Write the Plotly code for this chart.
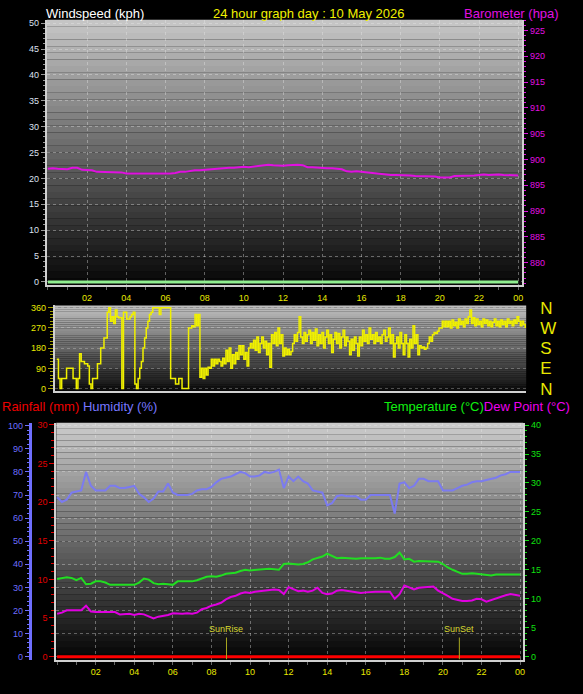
import plotly.graph_objects as go

W, H = 583, 694
FONT = "Liberation Sans, Arial, sans-serif"

day_title = "24 hour graph day : 10 May 2026"

# 15 minute readings 00:00 .. 24:00
hours_q = [i / 4 for i in range(97)]

baro = [898.2, 898.3, 898.2, 898.1, 898.1, 898.4, 898.4, 898.0, 897.9, 897.9,
        897.6, 897.6, 897.6, 897.5, 897.6, 897.5, 897.3, 897.3, 897.2, 897.2,
        897.2, 897.2, 897.2, 897.2, 897.2, 897.3, 897.4, 897.6, 897.6, 897.8,
        897.9, 897.9, 898.0, 898.1, 898.1, 898.2, 898.3, 898.4, 898.4, 898.5,
        898.6, 898.5, 898.6, 898.7, 898.9, 899.0, 898.9, 898.8, 898.8, 898.9,
        899.0, 899.0, 898.9, 898.5, 898.5, 898.4, 898.4, 898.3, 898.3, 898.2,
        898.1, 897.7, 897.6, 897.7, 897.6, 897.5, 897.4, 897.2, 897.2, 897.1,
        897.0, 897.0, 897.0, 896.9, 896.9, 896.8, 896.8, 896.8, 896.8, 896.7,
        896.5, 896.5, 896.5, 896.8, 896.8, 896.9, 896.9, 896.9, 897.0, 897.1,
        897.0, 897.1, 897.1, 897.0, 897.0, 897.0, 896.9]

humidity = [69, 67, 68, 71, 71.5, 72, 80, 74, 72, 72,
            72, 74, 74, 73, 73, 73.5, 74, 70.5, 69, 67,
            68.5, 71.5, 71.5, 75, 71, 70, 70, 70, 70.5, 72,
            72.5, 72.5, 73.5, 75.5, 77, 77.5, 78, 79, 80, 79.5,
            78, 78, 78.5, 80, 79.5, 80, 81, 73, 78, 76,
            78, 76, 75, 72, 71.5, 71, 65.5, 66.5, 69.5, 70,
            69.5, 69.5, 69.5, 68, 68, 70, 70, 70, 70, 70,
            62, 75, 75.5, 73, 74, 77, 77, 76, 76, 76,
            72, 72, 72, 73, 74, 74.5, 75.5, 76, 76, 76.5,
            77, 77.5, 78.5, 79, 80, 80, 80]

temperature = [13.4, 13.6, 13.7, 13.6, 13.2, 13.6, 12.5, 12.6, 13.0, 13.0,
               12.8, 12.4, 12.4, 12.5, 12.4, 12.4, 12.4, 12.8, 13.5, 13.3,
               12.7, 12.5, 12.6, 12.5, 12.4, 13.0, 13.0, 13.0, 13.0, 13.2,
               13.5, 13.8, 13.9, 13.8, 14.0, 14.3, 14.4, 14.5, 14.8, 15.0,
               14.9, 15.0, 15.1, 15.1, 15.2, 15.1, 15.0, 16.0, 16.1, 16.0,
               15.9, 16.0, 16.3, 16.8, 17.0, 17.3, 17.8, 17.4, 17.0, 17.1,
               17.0, 17.0, 16.9, 17.0, 17.0, 16.9, 17.0, 17.1, 16.9, 16.9,
               17.2, 18.0, 16.8, 16.9, 16.4, 16.5, 16.5, 16.4, 16.5, 16.4,
               16.0, 15.4, 15.0, 14.6, 14.3, 14.3, 14.4, 14.3, 14.2, 14.0,
               14.0, 14.2, 14.2, 14.2, 14.2, 14.2, 14.2]

dew_point = [7.4, 7.6, 8.0, 8.0, 7.9, 8.0, 8.8, 7.8, 7.7, 7.7,
             7.6, 7.7, 7.7, 7.3, 7.3, 7.4, 7.2, 7.4, 7.3, 6.9,
             6.6, 6.9, 7.0, 7.2, 7.5, 7.4, 7.4, 7.5, 7.4, 7.6,
             8.2, 8.4, 8.8, 9.0, 9.3, 9.9, 10.3, 10.5, 10.9, 11.1,
             11.0, 11.2, 11.3, 11.5, 11.6, 11.6, 11.5, 10.8, 12.0, 11.6,
             11.3, 11.4, 11.2, 11.4, 11.9, 11.0, 10.8, 10.9, 11.4, 11.5,
             11.4, 11.3, 11.1, 11.0, 11.1, 11.2, 11.2, 11.2, 11.2, 11.2,
             10.0, 10.8, 12.3, 12.0, 11.6, 11.9, 12.0, 12.0, 12.1, 11.4,
             11.0, 10.5, 10.0, 9.8, 9.6, 9.6, 9.7, 10.0, 9.9, 9.5,
             9.8, 10.0, 10.3, 10.6, 10.8, 10.6, 10.5]

rainfall = [0.0] * 97
windspeed = [0.0] * 97

# wind direction every 5 minutes, one row per two hours
hours_d = [i / 12 for i in range(289)]
wind_dir = [
    130, 45, 0, 45, 45, 45, 90, 90, 90, 90, 45, 45, 0, 45, 155, 120, 120, 110, 110, 100, 20, 0, 45, 45,
    45, 110, 110, 180, 180, 225, 225, 340, 360, 300, 320, 290, 350, 320, 315, 315, 0, 340, 340, 310, 310, 320, 330, 340,
    20, 0, 45, 90, 120, 180, 225, 270, 300, 330, 340, 360, 360, 360, 360, 330, 360, 360, 360, 360, 360, 360, 45, 45,
    45, 20, 20, 45, 45, 0, 0, 0, 0, 270, 270, 280, 275, 330, 280, 330, 50, 90, 45, 90, 60, 95, 90, 130,
    100, 130, 110, 130, 120, 100, 135, 110, 170, 120, 180, 90, 150, 110, 160, 130, 190, 150, 190, 130, 160, 100, 180, 200,
    180, 215, 170, 230, 160, 200, 230, 180, 210, 150, 200, 95, 240, 200, 250, 190, 270, 200, 240, 145, 180, 150, 175, 150,
    165, 200, 240, 210, 250, 320, 230, 200, 250, 210, 240, 260, 200, 250, 215, 265, 190, 240, 200, 250, 180, 230, 260, 200,
    240, 160, 220, 250, 200, 245, 180, 230, 260, 190, 230, 210, 150, 220, 170, 230, 200, 145, 230, 190, 260, 210, 240, 200,
    270, 220, 240, 200, 250, 210, 230, 200, 240, 260, 210, 230, 270, 200, 240, 140, 200, 230, 180, 250, 200, 150, 240, 200,
    140, 220, 180, 280, 200, 240, 150, 190, 180, 185, 175, 180, 200, 230, 210, 240, 250, 245, 255, 270, 270, 300, 275, 300,
    275, 300, 270, 305, 280, 295, 270, 310, 285, 300, 275, 310, 290, 320, 350, 290, 315, 280, 310, 285, 300, 275, 310, 290,
    305, 280, 300, 275, 295, 310, 280, 300, 275, 305, 285, 300, 275, 310, 290, 300, 280, 305, 290, 320, 300, 280, 300, 285,
    270]

hour_ticks = list(range(2, 25, 2))
hour_labels = ["%02d" % (h % 24) for h in hour_ticks]
compass_vals = [0, 90, 180, 270, 360]
compass_text = ["N", "E", "S", "W", "N"]

sunrise_h = 8.78
sunset_h = 20.85


def px(x):
    return x / W


def py(y):
    return 1 - y / H


YELLOW = "#e8e800"
GRID = dict(showgrid=True, gridcolor="rgba(235,235,235,0.38)", griddash="dot", gridwidth=1)
BORDER = "#d0d0d0"

fig = go.Figure()

# top panel: windspeed + barometer
fig.add_trace(go.Scatter(x=hours_q, y=windspeed, mode="lines", line=dict(color="#90ee90", width=3),
                         xaxis="x", yaxis="y", name="Windspeed"))
fig.add_trace(go.Scatter(x=hours_q, y=baro, mode="lines", line=dict(color="#e010e0", width=2),
                         xaxis="x", yaxis="y2", name="Barometer"))

# direction panel
fig.add_trace(go.Scatter(x=hours_d, y=wind_dir, mode="lines",
                         line=dict(color="#f0f000", width=1.5, shape="hv"),
                         xaxis="x2", yaxis="y3", name="Direction"))
fig.add_trace(go.Scatter(x=hours_d, y=wind_dir, mode="lines", line=dict(width=0), hoverinfo="skip",
                         xaxis="x2", yaxis="y4", showlegend=False))

# bottom panel
fig.add_trace(go.Scatter(x=hours_q, y=rainfall, mode="lines", line=dict(color="#ff0000", width=3),
                         xaxis="x3", yaxis="y5", name="Rainfall"))
fig.add_trace(go.Scatter(x=hours_q, y=humidity, mode="lines", line=dict(color="#7b7bf0", width=2),
                         xaxis="x3", yaxis="y6", name="Humidity"))
fig.add_trace(go.Scatter(x=hours_q, y=temperature, mode="lines", line=dict(color="#22dd22", width=2),
                         xaxis="x3", yaxis="y7", name="Temperature"))
fig.add_trace(go.Scatter(x=hours_q, y=dew_point, mode="lines", line=dict(color="#e000e0", width=2),
                         xaxis="x3", yaxis="y7", name="Dew Point"))

# grey gradient behind each panel
shapes = []
for xr, yr, top, bot in [("x domain", "y domain", 200, 6), ("x2 domain", "y3 domain", 195, 12),
                         ("x3 domain", "y5 domain", 205, 4)]:
    n = 40
    for k in range(n):
        g = int(bot + (top - bot) * (k + 0.5) / n)
        shapes.append(dict(type="rect", xref=xr, yref=yr, x0=0, x1=1, y0=k / n, y1=(k + 1) / n,
                           fillcolor="rgb(%d,%d,%d)" % (g, g, g), line=dict(width=0), layer="below"))

for h in (sunrise_h, sunset_h):
    shapes.append(dict(type="line", xref="x3", yref="y7", x0=h, x1=h, y0=-0.5, y1=3.3,
                       line=dict(color="#a8a820", width=1)))

small = dict(family=FONT, size=9)

fig.update_layout(
    width=W, height=H, margin=dict(l=0, r=0, t=0, b=0),
    paper_bgcolor="black", plot_bgcolor="black", showlegend=False,
    font=dict(family=FONT),
    shapes=shapes,
    xaxis=dict(domain=[px(47), px(524)], range=[-0.051, 24.203], anchor="y",
               tickvals=hour_ticks, ticktext=hour_labels, tickfont=dict(small, color=YELLOW),
               ticks="outside", ticklen=3, tickcolor="#666",
               minor=dict(tickmode="linear", tick0=0, dtick=1, ticks="outside", ticklen=3, tickcolor="#666"),
               showline=True, linecolor=BORDER, linewidth=2, zeroline=False, **GRID),
    yaxis=dict(domain=[py(284), py(13)], range=[-0.567, 50.66], anchor="x", dtick=5,
               tickfont=dict(small, color="#dde0f0"), ticks="outside", ticklen=4, tickcolor="#999",
               minor=dict(tickmode="linear", tick0=0, dtick=1, ticks="outside", ticklen=2, tickcolor="#999"),
               showline=True, linecolor=BORDER, linewidth=2, zeroline=False, **GRID),
    yaxis2=dict(overlaying="y", side="right", anchor="x", range=[875.7, 927.09], tick0=880, dtick=5,
                tickfont=dict(small, color="#e010e0"), ticks="outside", ticklen=4, tickcolor="#e010e0",
                minor=dict(tickmode="linear", tick0=880, dtick=1, ticks="outside", ticklen=2,
                           tickcolor="#e010e0"),
                showline=True, linecolor=BORDER, linewidth=2, showgrid=False, zeroline=False),
    xaxis2=dict(domain=[px(55), px(528)], range=[-0.102, 24.05], anchor="y3", showticklabels=False,
                ticks="", showgrid=False, zeroline=False, showline=True, linecolor=BORDER, linewidth=2),
    yaxis3=dict(domain=[py(392), py(305)], range=[-8.7, 370], anchor="x2", tickvals=compass_vals,
                tickfont=dict(small, color=YELLOW), ticks="outside", ticklen=5, tickcolor="#a0a000",
                minor=dict(tickmode="linear", tick0=0, dtick=15, ticks="outside", ticklen=3,
                           tickcolor="#a0a000"),
                showline=True, linecolor=BORDER, linewidth=2, zeroline=False,
                showgrid=True, gridcolor="rgba(235,235,235,0.3)", griddash="dot"),
    yaxis4=dict(overlaying="y3", side="right", anchor="x2", range=[-8.7, 370], tickvals=compass_vals,
                ticktext=compass_text, tickfont=dict(family=FONT, size=17, color=YELLOW), ticks="",
                ticklabelstandoff=13, showgrid=False, zeroline=False, showline=False),
    xaxis3=dict(domain=[px(56.5), px(525)], range=[-0.041, 24.16], anchor="y5",
                tickvals=hour_ticks, ticktext=hour_labels, tickfont=dict(small, color=YELLOW),
                ticks="outside", ticklen=3, tickcolor="#666",
                minor=dict(tickmode="linear", tick0=0, dtick=1, ticks="outside", ticklen=3, tickcolor="#666"),
                showline=True, linecolor=BORDER, linewidth=2, zeroline=False, **GRID),
    yaxis5=dict(domain=[py(667), py(425)], range=[-0.38, 30.25], anchor="x3", dtick=5,
                tickfont=dict(small, color="#e00000"), ticks="outside", ticklen=5, tickcolor="#e00000",
                minor=dict(tickmode="linear", tick0=0, dtick=1, ticks="outside", ticklen=3,
                           tickcolor="#e00000"),
                showline=True, linecolor=BORDER, linewidth=2, showgrid=False, zeroline=False),
    yaxis6=dict(overlaying="y5", side="left", anchor="free", position=px(30), range=[-1.27, 101.27],
                dtick=10, tickfont=dict(small, color="#6f6fff"), ticks="outside", ticklen=4,
                tickcolor="#6f6fff",
                minor=dict(tickmode="linear", tick0=0, dtick=2, ticks="outside", ticklen=2,
                           tickcolor="#6f6fff"),
                showline=True, linecolor="#6f6fff", linewidth=3, zeroline=False,
                showgrid=True, gridcolor="rgba(235,235,235,0.35)", griddash="dot"),
    yaxis7=dict(overlaying="y5", side="right", anchor="x3", range=[-0.51, 40.39], dtick=5,
                tickfont=dict(small, color="#10e010"), ticks="outside", ticklen=4, tickcolor="#10e010",
                minor=dict(tickmode="linear", tick0=0, dtick=1, ticks="outside", ticklen=2,
                           tickcolor="#10e010"),
                showline=True, linecolor=BORDER, linewidth=2, showgrid=False, zeroline=False),
)

big = dict(family=FONT, size=13)
notes = [
    dict(x=px(44), y=py(7), text="Windspeed (kph)", xanchor="left", font=dict(big, color="white")),
    dict(x=px(310), y=py(7), text=day_title, xanchor="center", font=dict(big, color="#f0f000")),
    dict(x=px(464), y=py(7), text="Barometer (hpa)", xanchor="left", font=dict(big, color="#e010e0")),
    dict(x=px(0), y=py(408), xanchor="left", font=big,
         text="<span style='color:#ee0000'>Rainfall (mm)</span> "
              "<span style='color:#7777ff'>Humidity (%)</span>"),
    dict(x=px(574), y=py(408), xanchor="right", font=big,
         text="<span style='color:#10ee10'>Temperature (°C)</span>"
              "<span style='color:#ee00ee'>Dew Point (°C)</span>"),
]
for a in notes:
    a.update(xref="paper", yref="paper", yanchor="middle", showarrow=False)
    fig.add_annotation(**a)

for h, label in ((sunrise_h, "SunRise"), (sunset_h, "SunSet")):
    fig.add_annotation(x=h, y=3.5, xref="x3", yref="y7", text=label, showarrow=False,
                       yanchor="bottom", font=dict(small, color="#d8d830"))

# page body has a default margin; drop it so the figure sits at the window corner
fig.write_html("out.html", config={"displayModeBar": False},
               post_script="document.body.style.margin='0';")
